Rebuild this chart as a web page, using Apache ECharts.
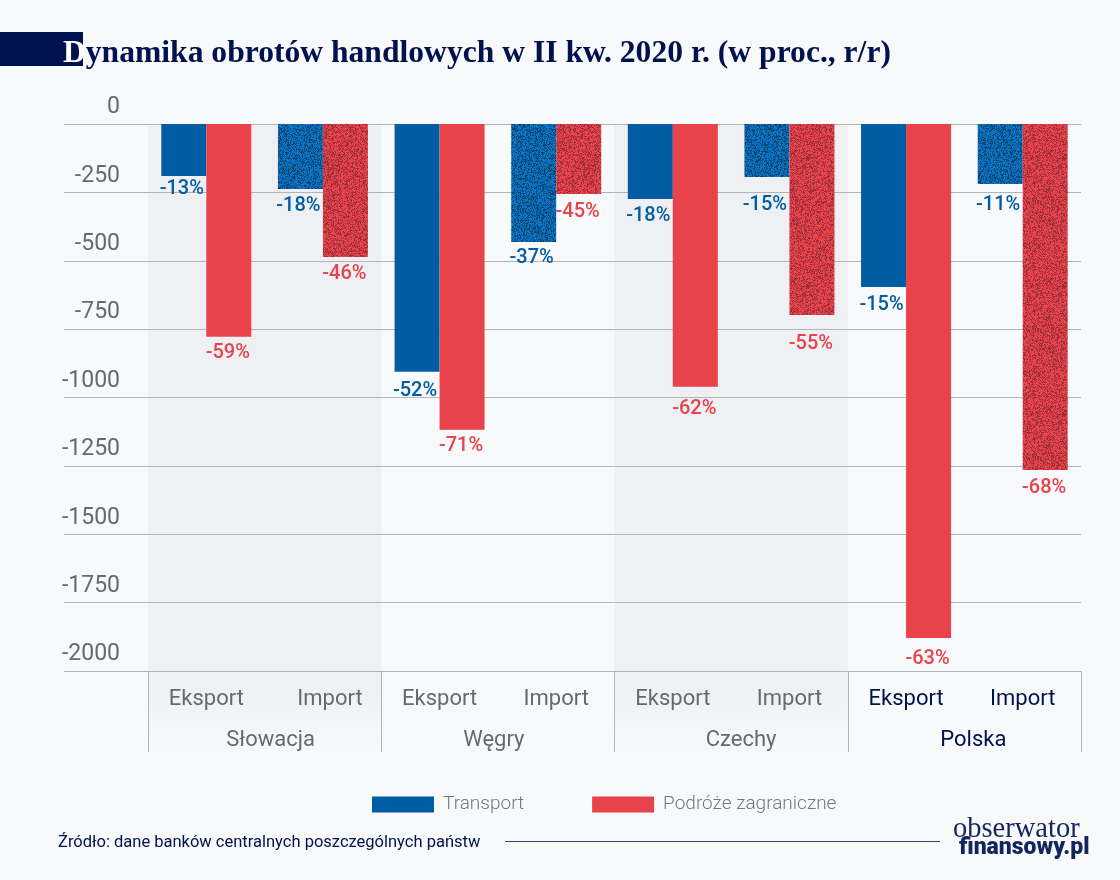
<!DOCTYPE html>
<html>

<head>
  <meta charset="utf-8">
  <title>Dynamika obrotów handlowych</title>
  <script src="https://cdn.jsdelivr.net/npm/echarts@6/dist/echarts.min.js"></script>
  <style>
    html, body { margin: 0; padding: 0; background: #f8f9fb; }
    #main { width: 1120px; height: 880px; }
  </style>
</head>

<body>
  <div id="main"></div>

  <script type="text/javascript">
    var categories = ['Eksport', 'Import', 'Eksport', 'Import', 'Eksport', 'Import', 'Eksport', 'Import']
    var countries = ['Słowacja', 'Węgry', 'Czechy', 'Polska']
    var transportValues = [-190, -238, -906, -431, -274, -194, -596, -219]
    var travelValues = [-778, -486, -1118, -256, -961, -698, -1879, -1265]
    var transportLabels = ['-13%', '-18%', '-52%', '-37%', '-18%', '-15%', '-15%', '-11%']
    var travelLabels = ['-59%', '-46%', '-71%', '-45%', '-62%', '-55%', '-63%', '-68%']
    // pasma tła: od ktorej do ktorej kategorii
    var bands = [[0, 1], [4, 5]]

    // ustawienia etykiet, w oryginale rozstawione recznie
    var transportGaps = [3, 7, 9, 6, 7, 18, 8, 11]
    var travelGaps = [6, 7, 6, 8, 12, 19, 11, 8]
    var categoryShift = [0, 7, 0, 0, 0, 0, 0, 0]
    var countryShift = [6, -4, 10, 9]

    var NAVY = '#00114f'
    var BLUE = '#005ca3'
    var RED = '#e8434b'
    var GRAY = '#666a6e'
    var LINE = '#b4b4b6'
    var FONT = 'Roboto'

    // ziarnista tekstura słupków Import
    function grain(light, dark, seed) {
      var size = 128
      var canvas = document.createElement('canvas')
      canvas.width = size
      canvas.height = size
      var ctx = canvas.getContext('2d')
      ctx.fillStyle = light
      ctx.fillRect(0, 0, size, size)
      ctx.fillStyle = dark
      var s = seed
      for (var y = 0; y < size; y++) {
        for (var x = 0; x < size; x++) {
          s = (s * 1103515245 + 12345) % 2147483648
          if ((s >> 12) % 100 < 40) {
            ctx.fillRect(x, y, 1, 1)
          }
        }
      }
      return { image: canvas, repeat: 'repeat' }
    }

    var bluePattern = grain('#0b74c2', '#0c4676', 7)
    var redPattern = grain('#e8434b', '#a02f3c', 91)

    function barData(values, pattern, gaps) {
      return values.map(function (v, i) {
        var item = { value: v, label: { distance: gaps[i] } }
        if (categories[i] === 'Import') {
          item.itemStyle = { color: pattern }
        }
        return item
      })
    }

    // etykieta osi przesunieta w bok przez padding w rich
    function shiftedRich(shifts, colorOf) {
      var rich = {}
      shifts.forEach(function (s, i) {
        rich['k' + i] = {
          fontFamily: FONT,
          fontSize: 22,
          color: colorOf(i),
          padding: s >= 0 ? [0, 0, 0, 2 * s] : [0, -2 * s, 0, 0]
        }
      })
      return rich
    }

    function renderBand(params, api) {
      var cs = params.coordSys
      var first = api.coord([api.value(0), 0])[0]
      var last = api.coord([api.value(1), 0])[0]
      var w = api.size([1, 0])[0]
      var fullH = cs.height + 81
      return {
        type: 'rect',
        shape: { x: first - w / 2, y: cs.y, width: last - first + w, height: fullH },
        style: {
          fill: {
            type: 'linear', x: 0, y: 0, x2: 0, y2: 1,
            colorStops: [
              { offset: 0, color: '#eff0f4' },
              { offset: 0.9, color: '#eff0f4' },
              { offset: 1, color: '#f8f9fb' }
            ]
          }
        }
      }
    }

    var myChart = echarts.init(document.getElementById('main'))

    var option = {
      backgroundColor: '#f8f9fb',
      animation: false,
      textStyle: { fontFamily: FONT },
      title: {
        left: 58,
        top: 33,
        text: '{d|D}{t|ynamika obrotów handlowych w II kw. 2020 r. (w proc., r/r)}',
        textStyle: {
          rich: {
            d: { color: '#ffffff', fontFamily: 'Liberation Serif', fontWeight: 'bold', fontSize: 31.6 },
            t: { color: NAVY, fontFamily: 'Liberation Serif', fontWeight: 'bold', fontSize: 31.6 }
          }
        }
      },
      legend: {
        left: 367,
        top: 790,
        data: ['Transport', 'Podróże zagraniczne'],
        itemWidth: 62,
        itemHeight: 16,
        itemGap: 68,
        icon: 'rect',
        textStyle: { fontFamily: FONT, fontSize: 19, fontWeight: 300, color: '#74787c', padding: [0, 0, 0, 4] }
      },
      grid: { left: 148, right: 39, top: 124, height: 547 },
      xAxis: [{
        type: 'category',
        data: categories,
        position: 'bottom',
        axisLine: { lineStyle: { color: LINE, width: 1 } },
        axisTick: { show: false },
        axisLabel: {
          interval: 0,
          margin: 17,
          formatter: function (value, index) {
            return '{k' + index + '|' + value + '}'
          },
          rich: shiftedRich(categoryShift, function (i) { return i >= 6 ? NAVY : GRAY })
        }
      }, {
        type: 'category',
        data: countries,
        position: 'bottom',
        axisLine: { show: false },
        axisTick: { show: true, length: 81, lineStyle: { color: LINE, width: 1 } },
        axisLabel: {
          interval: 0,
          margin: 58,
          formatter: function (value, index) {
            return '{k' + index + '|' + value + '}'
          },
          rich: shiftedRich(countryShift, function (i) { return i === 3 ? NAVY : GRAY })
        }
      }],
      yAxis: {
        type: 'value',
        min: -2000,
        max: 0,
        interval: 250,
        axisLine: { show: false },
        axisTick: { show: true, length: 84, lineStyle: { color: LINE, width: 1 } },
        splitLine: { lineStyle: { color: LINE, width: 1 } },
        axisLabel: {
          margin: 28,
          fontFamily: FONT,
          fontSize: 23,
          color: GRAY,
          align: 'right',
          verticalAlign: 'bottom',
          padding: [0, 0, 5, 0],
          formatter: function (value) { return String(value) }
        }
      },
      series: [{
        type: 'custom',
        name: 'tlo',
        z: -1,
        silent: true,
        renderItem: renderBand,
        data: bands,
        encode: { x: [0, 1] }
      }, {
        type: 'bar',
        name: 'Transport',
        data: barData(transportValues, bluePattern, transportGaps),
        barWidth: 45,
        barGap: '0%',
        itemStyle: { color: BLUE },
        label: {
          show: true,
          position: 'bottom',
          offset: [-2, 0],
          fontFamily: FONT,
          fontWeight: 500,
          fontSize: 20,
          color: BLUE,
          formatter: function (p) { return transportLabels[p.dataIndex] }
        }
      }, {
        type: 'bar',
        name: 'Podróże zagraniczne',
        data: barData(travelValues, redPattern, travelGaps),
        barWidth: 45,
        barGap: '0%',
        itemStyle: { color: RED },
        label: {
          show: true,
          position: 'bottom',
          offset: [-1, 0],
          fontFamily: FONT,
          fontWeight: 500,
          fontSize: 20,
          color: RED,
          formatter: function (p) { return travelLabels[p.dataIndex] }
        }
      }],
      graphic: [
        { type: 'rect', z: -2, shape: { x: 0, y: 32, width: 83, height: 34 }, style: { fill: NAVY } },
        {
          type: 'text', left: 58, top: 834,
          style: { text: 'Źródło: dane banków centralnych poszczególnych państw', fill: NAVY, fontFamily: FONT, fontSize: 16.5 }
        },
        { type: 'line', shape: { x1: 505, y1: 841.5, x2: 940, y2: 841.5 }, style: { stroke: '#33407a', lineWidth: 1 } },
        {
          type: 'text', left: 953, top: 815,
          style: { text: 'obserwator', fill: '#14245c', fontFamily: 'Liberation Serif', fontSize: 28.5 }
        },
        {
          type: 'text', left: 959, top: 837,
          style: { text: 'finansowy.pl', fill: '#14245c', fontFamily: FONT, fontWeight: 900, fontSize: 23 }
        }
      ]
    }

    myChart.setOption(option)
  </script>
</body>

</html>
